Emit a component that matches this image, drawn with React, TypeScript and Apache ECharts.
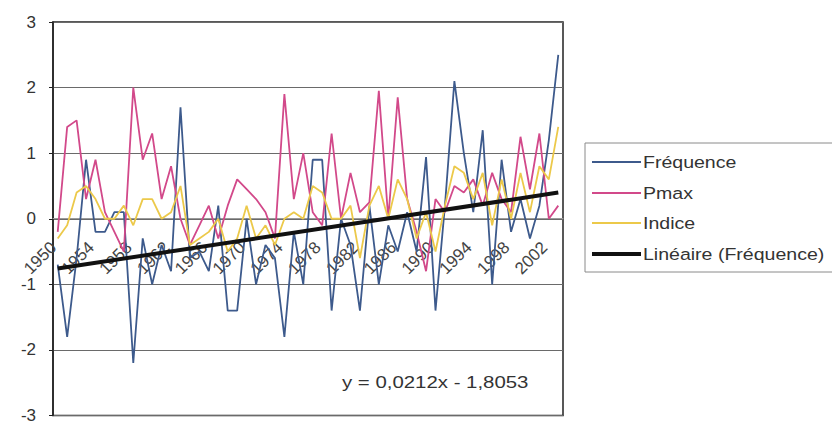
import React, { useEffect, useRef } from "react";
import * as echarts from "echarts";

const years = [
  "1950","1951","1952","1953","1954","1955","1956","1957","1958","1959",
  "1960","1961","1962","1963","1964","1965","1966","1967","1968","1969",
  "1970","1971","1972","1973","1974","1975","1976","1977","1978","1979",
  "1980","1981","1982","1983","1984","1985","1986","1987","1988","1989",
  "1990","1991","1992","1993","1994","1995","1996","1997","1998","1999",
  "2000","2001","2002","2003",
];

const frequence = [
  -0.7, -1.8, -0.6, 0.9, -0.2, -0.2, 0.1, 0.1, -2.2, -0.3,
  -1.0, -0.4, -0.8, 1.7, -0.6, -0.5, -0.8, 0.2, -1.4, -1.4,
  0.0, -1.0, -0.4, -0.6, -1.8, -0.2, -1.0, 0.9, 0.9, -1.4,
  0.0, -0.4, -1.4, 0.2, -1.0, -0.1, -0.5, 0.1, -0.5, 0.94,
  -1.4, 0.2, 2.1, 1.0, 0.1, 1.35, -1.0, 0.9, -0.2, 0.3,
  -0.3, 0.2, 1.2, 2.5,
];

const pmax = [
  -0.2, 1.4, 1.5, 0.3, 0.9, 0.1, -0.2, -0.5, 2.0, 0.9,
  1.3, 0.3, 0.8, 0.0, -0.4, -0.1, 0.2, -0.3, 0.2, 0.6,
  0.45, 0.3, 0.1, -0.3, 1.9, 0.3, 1.0, 0.1, -0.1, 1.3,
  0.0, 0.7, 0.1, 0.25, 1.95, 0.0, 1.85, 0.3, -0.2, -0.8,
  0.3, 0.1, 0.5, 0.4, 0.6, 0.2, 0.7, 0.3, 0.1, 1.25,
  0.45, 1.3, 0.0, 0.2,
];

const indice = [
  -0.3, -0.1, 0.4, 0.5, 0.3, 0.0, 0.0, 0.2, -0.1, 0.3,
  0.3, 0.0, 0.1, 0.5, -0.4, -0.3, -0.2, 0.0, -0.5, -0.3,
  0.2, -0.3, -0.1, -0.4, 0.0, 0.1, 0.0, 0.5, 0.4, 0.0,
  0.0, 0.2, -0.6, 0.2, 0.5, 0.0, 0.6, 0.3, -0.3, 0.1,
  -0.5, 0.2, 0.8, 0.7, 0.3, 0.7, -0.1, 0.6, 0.0, 0.7,
  0.1, 0.8, 0.6, 1.4,
];

// Linear trend endpoints (first and last year), as drawn in the reference
const trendEnds = [-0.76, 0.4];

const yTicks = [-3, -2, -1, 0, 1, 2, 3];

const seriesNames = ["Fréquence", "Pmax", "Indice", "Linéaire (Fréquence)"];
const seriesColors = ["#3d5a8c", "#d2498a", "#ecc94a", "#111111"];
const equationText = "y = 0,0212x - 1,8053";

export default function App() {
  const ref = useRef<HTMLDivElement>(null);

  useEffect(() => {
    if (!ref.current) return;
    const chart = echarts.init(ref.current, undefined, { renderer: "svg" });
    const font = "Liberation Sans";
    const legendYs = [162, 193, 223, 254];
    const gridTop = 22;
    const gridHeight = 394;

    const legendGraphics: any[] = [
      {
        type: "rect",
        shape: { x: 585, y: 143, width: 300, height: 129 },
        style: { fill: "#fff", stroke: "#8a8a8a", lineWidth: 1 },
        z: 10,
      },
    ];
    seriesNames.forEach((name, k) => {
      legendGraphics.push({
        type: "line",
        shape: { x1: 592, y1: legendYs[k], x2: 641, y2: legendYs[k] },
        style: { stroke: seriesColors[k], lineWidth: k === 3 ? 4 : 2.2 },
        z: 11,
      });
      legendGraphics.push({
        type: "text",
        x: 643,
        y: legendYs[k],
        scaleX: 1.15,
        style: {
          text: name,
          fill: "#333",
          fontSize: 17,
          fontFamily: font,
          verticalAlign: "middle",
          align: "left",
        },
        z: 11,
      });
    });

    chart.setOption({
      animation: false,
      backgroundColor: "#ffffff",
      textStyle: { fontFamily: font },
      grid: {
        left: 53,
        top: gridTop,
        width: 510,
        height: gridHeight,
        show: true,
        borderColor: "#222",
        borderWidth: 1.5,
        backgroundColor: "transparent",
      },
      xAxis: {
        type: "category",
        data: years,
        boundaryGap: true,
        position: "bottom",
        offset: -gridHeight / 2,
        axisLine: { onZero: false, lineStyle: { color: "#9a9a9a", width: 1 } },
        axisTick: { show: false },
        axisLabel: {
          interval: 3,
          rotate: 45,
          margin: 22,
          fontSize: 17,
          color: "#444",
          fontFamily: font,
          padding: [0, 6, 0, 0],
        },
        splitLine: { show: false },
      },
      yAxis: {
        type: "value",
        min: yTicks[0],
        max: yTicks[yTicks.length - 1],
        interval: 1,
        axisLine: { show: true, onZero: false, lineStyle: { color: "#222", width: 1.5 } },
        axisTick: { show: true, length: 4, lineStyle: { color: "#222" } },
        axisLabel: { fontSize: 17, color: "#333", margin: 17, fontFamily: font },
        splitLine: { show: true, lineStyle: { color: "#6a6a6a", width: 1 } },
      },
      series: [
        {
          name: seriesNames[0],
          type: "line",
          data: frequence,
          symbol: "none",
          lineStyle: { color: seriesColors[0], width: 1.8 },
          z: 2,
        },
        {
          name: seriesNames[1],
          type: "line",
          data: pmax,
          symbol: "none",
          lineStyle: { color: seriesColors[1], width: 1.8 },
          z: 3,
        },
        {
          name: seriesNames[2],
          type: "line",
          data: indice,
          symbol: "none",
          lineStyle: { color: seriesColors[2], width: 1.8 },
          z: 4,
        },
        {
          name: seriesNames[3],
          type: "line",
          data: [
            [0, trendEnds[0]],
            [years.length - 1, trendEnds[1]],
          ],
          symbol: "none",
          lineStyle: { color: seriesColors[3], width: 4 },
          z: 5,
        },
      ],
      graphic: [
        {
          type: "text",
          x: 342,
          y: 382,
          scaleX: 1.2,
          style: {
            text: equationText,
            fill: "#333",
            fontSize: 17,
            fontFamily: font,
            verticalAlign: "middle",
            align: "left",
          },
          z: 10,
        },
        ...legendGraphics,
      ],
    });

    return () => chart.dispose();
  }, []);

  return (
    <div
      ref={ref}
      style={{ position: "fixed", left: 0, top: 0, width: 832, height: 424 }}
    />
  );
}
